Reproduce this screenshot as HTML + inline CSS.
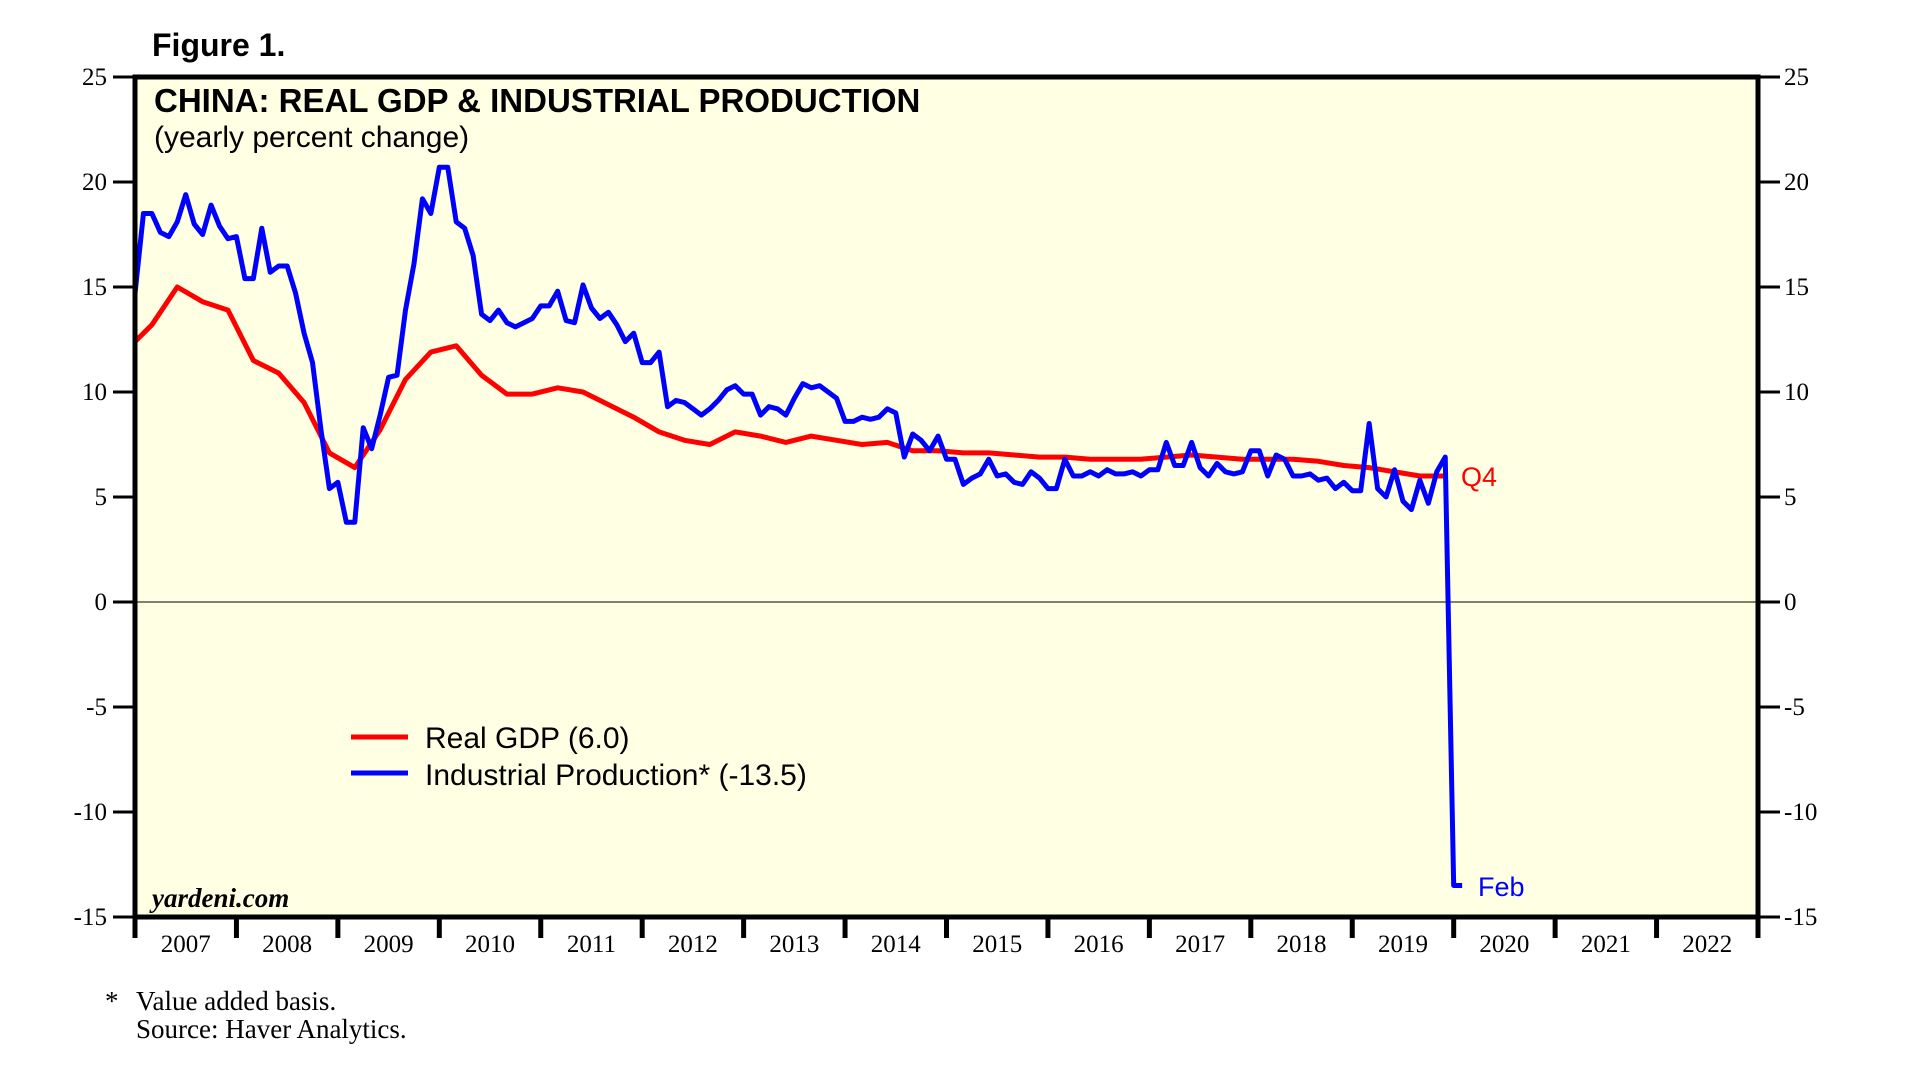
<!DOCTYPE html>
<html><head><meta charset="utf-8"><style>
body{margin:0;background:#fff;}
svg{display:block;}
</style></head><body>
<svg id="chart" width="1908" height="1082" viewBox="0 0 1908 1082" xmlns="http://www.w3.org/2000/svg">
<text x="152" y="56" font-family="Liberation Sans, sans-serif" font-weight="bold" font-size="32">Figure 1.</text>
<rect x="135" y="77" width="1623" height="840" fill="#FFFFE4"/>
<g id="grid"></g>
<g id="series"></g>
<rect x="135" y="77" width="1623" height="840" fill="none" stroke="#000" stroke-width="5"/>
<text x="154" y="112" font-family="Liberation Sans, sans-serif" font-weight="bold" font-size="33">CHINA: REAL GDP &amp; INDUSTRIAL PRODUCTION</text>
<text x="154" y="147" font-family="Liberation Sans, sans-serif" font-size="30">(yearly percent change)</text>
<g>
<line x1="351" y1="737" x2="408" y2="737" stroke="#ff0000" stroke-width="5"/>
<text x="425" y="748" font-family="Liberation Sans, sans-serif" font-size="30">Real GDP (6.0)</text>
<line x1="351" y1="773" x2="408" y2="773" stroke="#0000ff" stroke-width="5"/>
<text x="425" y="785" font-family="Liberation Sans, sans-serif" font-size="30">Industrial Production* (-13.5)</text>
</g>
<text x="152" y="907" font-family="Liberation Serif, serif" font-weight="bold" font-style="italic" font-size="27">yardeni.com</text>
<text x="1461" y="486" fill="#ff0000" font-family="Liberation Sans, sans-serif" font-size="27">Q4</text>
<text x="1478" y="896" fill="#0000ff" font-family="Liberation Sans, sans-serif" font-size="27">Feb</text>
<text x="105" y="1010" font-family="Liberation Serif, serif" font-size="27">*</text>
<text x="136" y="1010" font-family="Liberation Serif, serif" font-size="27">Value added basis.</text>
<text x="136" y="1038" font-family="Liberation Serif, serif" font-size="27">Source: Haver Analytics.</text>
</svg>
<script>
const years = [2007,2008,2009,2010,2011,2012,2013,2014,2015,2016,2017,2018,2019,2020,2021,2022];
const yTicks = [25,20,15,10,5,0,-5,-10,-15];
// Real GDP quarterly, starting 2006Q4
const gdpStart = -1;
const gdp = [12.0,
13.2,15.0,14.3,13.9, 11.5,10.9,9.5,7.1, 6.4,8.2,10.6,11.9, 12.2,10.8,9.9,9.9,
10.2,10.0,9.4,8.8, 8.1,7.7,7.5,8.1, 7.9,7.6,7.9,7.7, 7.5,7.6,7.2,7.2,
7.1,7.1,7.0,6.9, 6.9,6.8,6.8,6.8, 6.9,7.0,6.9,6.8, 6.8,6.8,6.7,6.5, 6.4,6.2,6.0,6.0];
// Industrial production monthly from Jan 2007
const ip = [
14.7,18.5,18.5,17.6,17.4,18.1,19.4,18.0,17.5,18.9,17.9,17.3,
17.4,15.4,15.4,17.8,15.7,16.0,16.0,14.7,12.8,11.4,8.2,5.4,
5.7,3.8,3.8,8.3,7.3,8.9,10.7,10.8,13.9,16.1,19.2,18.5,
20.7,20.7,18.1,17.8,16.5,13.7,13.4,13.9,13.3,13.1,13.3,13.5,
14.1,14.1,14.8,13.4,13.3,15.1,14.0,13.5,13.8,13.2,12.4,12.8,
11.4,11.4,11.9,9.3,9.6,9.5,9.2,8.9,9.2,9.6,10.1,10.3,
9.9,9.9,8.9,9.3,9.2,8.9,9.7,10.4,10.2,10.3,10.0,9.7,
8.6,8.6,8.8,8.7,8.8,9.2,9.0,6.9,8.0,7.7,7.2,7.9,
6.8,6.8,5.6,5.9,6.1,6.8,6.0,6.1,5.7,5.6,6.2,5.9,
5.4,5.4,6.8,6.0,6.0,6.2,6.0,6.3,6.1,6.1,6.2,6.0,
6.3,6.3,7.6,6.5,6.5,7.6,6.4,6.0,6.6,6.2,6.1,6.2,
7.2,7.2,6.0,7.0,6.8,6.0,6.0,6.1,5.8,5.9,5.4,5.7,
5.3,5.3,8.5,5.4,5.0,6.3,4.8,4.4,5.8,4.7,6.2,6.9,
-13.5,-13.5];

const L=135,R=1758,T=77,B=917,yMax=25,yMin=-15;
const monthW=(R-L)/(years.length*12);
const xM=m=>L+m*monthW;
const y=v=>T+(yMax-v)/(yMax-yMin)*(B-T);
const svg=document.getElementById('chart');
const NS='http://www.w3.org/2000/svg';
const grid=document.getElementById('grid'), series=document.getElementById('series');
function mk(tag,attrs,parent){const e=document.createElementNS(NS,tag);for(const k in attrs)e.setAttribute(k,attrs[k]);(parent||svg).appendChild(e);return e;}

const clip=mk('clipPath',{id:'pc'});mk('rect',{x:L,y:T,width:R-L,height:B-T},clip);

const zl=mk('line',{x1:L,x2:R,y1:y(0),y2:y(0),stroke:'#000','stroke-width':1},grid);



yTicks.forEach(v=>{
  const a=mk('line',{x1:113,x2:L,y1:y(v),y2:y(v),stroke:'#000','stroke-width':3});
  
  
  const b=mk('line',{x1:R,x2:1780,y1:y(v),y2:y(v),stroke:'#000','stroke-width':3});
  
  
  const t1=mk('text',{x:107,y:y(v)+8,'text-anchor':'end','font-family':'Liberation Serif, serif','font-size':25});
  t1.textContent=v;
  
  
  const t2=mk('text',{x:1784,y:y(v)+8,'font-family':'Liberation Serif, serif','font-size':25});
  t2.textContent=v;
  
  
});
for(let i=0;i<=years.length;i++){
  const x=xM(i*12);
  const t=mk('line',{x1:x,x2:x,y1:B,y2:938,stroke:'#000','stroke-width':5});
  
  
}
years.forEach((yr,i)=>{
  const t=mk('text',{x:xM(i*12+6),y:952,'text-anchor':'middle','font-family':'Liberation Serif, serif','font-size':25});
  t.textContent=yr;
  
  
});

const gp=mk('path',{d:gdp.map((v,i)=>(i?'L':'M')+xM((gdpStart+i)*3+2)+','+y(v)).join(''),fill:'none',stroke:'#ff0000','stroke-width':5,'stroke-linejoin':'round','clip-path':'url(#pc)'},series);


const ipp=mk('path',{d:ip.map((v,i)=>(i?'L':'M')+xM(i)+','+y(v)).join(''),fill:'none',stroke:'#0000ff','stroke-width':5,'stroke-linejoin':'round','clip-path':'url(#pc)'},series);


</script>
</body></html>
